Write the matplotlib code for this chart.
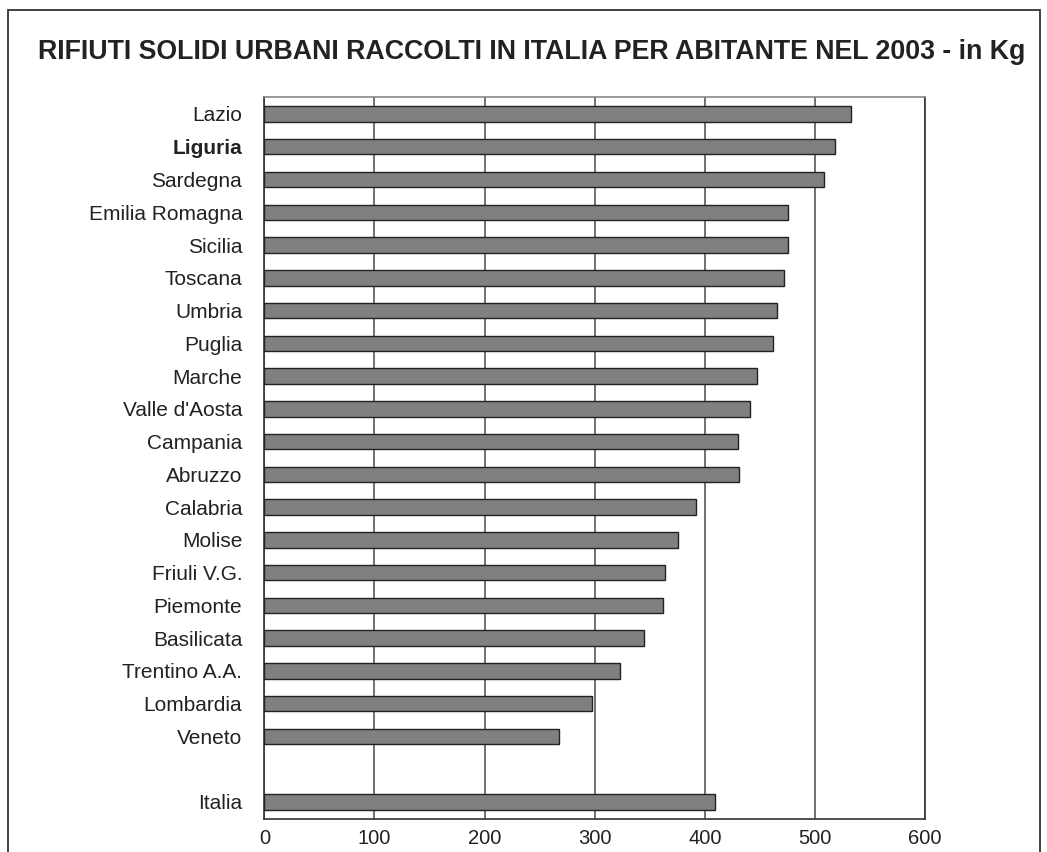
import numpy as np
import matplotlib.pyplot as plt
from matplotlib.patches import Rectangle

plt.rcParams['font.family'] = ['Liberation Sans', 'DejaVu Sans']

regioni = ['Lazio', 'Liguria', 'Sardegna', 'Emilia Romagna', 'Sicilia', 'Toscana',
           'Umbria', 'Puglia', 'Marche', "Valle d'Aosta", 'Campania', 'Abruzzo',
           'Calabria', 'Molise', 'Friuli V.G.', 'Piemonte', 'Basilicata',
           'Trentino A.A.', 'Lombardia', 'Veneto']
kg = [533, 518, 508, 476, 476, 472, 466, 462, 447, 441, 430, 431,
      392, 376, 364, 362, 345, 323, 298, 268]
italia = 409

labels = regioni + ['Italia']
values = kg + [italia]
pos = list(range(len(regioni))) + [len(regioni) + 1]

fig = plt.figure(figsize=(10.47, 8.52), dpi=100)
ax = fig.add_axes([0.2525, 0.0387, 0.631, 0.8475])

# frame round the whole picture
fig.patches.append(Rectangle((8 / 1047, -0.1), 1032 / 1047, 1.1 - 10 / 852,
                             transform=fig.transFigure, fill=False,
                             edgecolor='#333333', linewidth=1.3))

ax.barh(pos, values, height=0.47, color='#808080', edgecolor='#222222',
        linewidth=1.0, zorder=3)

ax.set_xlim(0, 600)
ax.set_ylim(len(regioni) + 1.52, -0.52)
ax.set_xticks(np.arange(0, 601, 100))
ax.set_yticks(pos)
ax.set_yticklabels(labels)
ax.tick_params(axis='both', length=0, colors='#222222')
ax.tick_params(axis='x', labelsize=14.5, pad=7)
ax.tick_params(axis='y', labelsize=15, pad=16)
for t in ax.get_yticklabels():
    if t.get_text() == 'Liguria':
        t.set_fontweight('bold')

ax.grid(axis='x', color='#666666', linewidth=1.3, zorder=1)
ax.grid(axis='y', visible=False)
for s in ['left', 'bottom', 'right']:
    ax.spines[s].set_color('#333333')
    ax.spines[s].set_linewidth(1.2)
ax.spines['top'].set_color('#888888')
ax.spines['top'].set_linewidth(1.2)

fig.text(0.508, 0.939, 'RIFIUTI SOLIDI URBANI RACCOLTI IN ITALIA PER ABITANTE NEL 2003 - in Kg',
         ha='center', va='center', fontsize=19.3, fontweight='bold', color='#222222')

fig.savefig('out.png', dpi=100)
